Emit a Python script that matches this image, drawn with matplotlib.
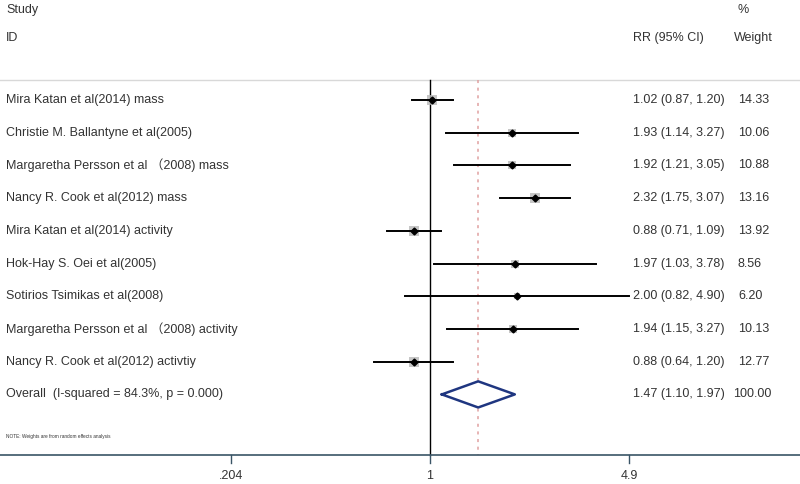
import matplotlib.pyplot as plt
import matplotlib.transforms as mtransforms
import numpy as np

# Study data
studies = [
    'Mira Katan et al(2014) mass',
    'Christie M. Ballantyne et al(2005)',
    'Margaretha Persson et al （2008) mass',
    'Nancy R. Cook et al(2012) mass',
    'Mira Katan et al(2014) activity',
    'Hok-Hay S. Oei et al(2005)',
    'Sotirios Tsimikas et al(2008)',
    'Margaretha Persson et al （2008) activity',
    'Nancy R. Cook et al(2012) activtiy',
]
rr = [1.02, 1.93, 1.92, 2.32, 0.88, 1.97, 2.00, 1.94, 0.88]
lower = [0.87, 1.14, 1.21, 1.75, 0.71, 1.03, 0.82, 1.15, 0.64]
upper = [1.20, 3.27, 3.05, 3.07, 1.09, 3.78, 4.90, 3.27, 1.20]
weights = [14.33, 10.06, 10.88, 13.16, 13.92, 8.56, 6.20, 10.13, 12.77]

overall_label = 'Overall  (I-squared = 84.3%, p = 0.000)'
overall = [1.47, 1.10, 1.97]
overall_weight = 100.00

tick_values = [0.204, 1, 4.9]
tick_labels = ['.204', '1', '4.9']

plt.rcParams['font.family'] = ['Liberation Sans', 'Noto Sans CJK SC', 'DejaVu Sans']
txt_color = '#333333'
fs = 9

fig = plt.figure(figsize=(8, 4.84), dpi=100)
ax = fig.add_axes([0, 0, 1, 1])
ax.set_xscale('log')
ax.set_xlim(0.0323, 19.2)
ax.set_ylim(11.74, -3.06)
ax.axis('off')

# x in axes fraction, y in row units
tr = mtransforms.blended_transform_factory(ax.transAxes, ax.transData)

# header
ax.text(6 / 800, -2.75, 'Study', transform=tr, fontsize=fs, color=txt_color, va='center')
ax.text(6 / 800, -1.9, 'ID', transform=tr, fontsize=fs, color=txt_color, va='center')
ax.text(633 / 800, -1.9, 'RR (95% CI)', transform=tr, fontsize=fs, color=txt_color, va='center')
ax.text(737 / 800, -2.75, '%', transform=tr, fontsize=fs, color=txt_color, va='center')
ax.text(734 / 800, -1.9, 'Weight', transform=tr, fontsize=fs, color=txt_color, va='center')

# separator line under header
ax.axhline(-0.61, color='#d8d8d8', lw=1)

y_overall = len(studies)
y_axis = 10.86

# reference lines
ax.plot([1, 1], [-0.61, y_axis], color='black', lw=1)
ax.plot([overall[0], overall[0]], [-0.61, y_axis], color='#e0a0a0', lw=1.1,
        linestyle=(0, (2, 3)))

# study rows
for i, name in enumerate(studies):
    ax.plot([lower[i], upper[i]], [i, i], color='black', lw=1.4, zorder=3)
    ax.plot(rr[i], i, marker='s', color='#b8b8b8', alpha=0.8,
            markersize=np.sqrt(weights[i]) * 1.9, markeredgewidth=0, zorder=2)
    ax.plot(rr[i], i, marker='D', color='black', markersize=3.5, zorder=4)
    ax.text(6 / 800, i, name, transform=tr, fontsize=fs, color=txt_color, va='center')
    ax.text(633 / 800, i, '%.2f (%.2f, %.2f)' % (rr[i], lower[i], upper[i]),
            transform=tr, fontsize=fs, color=txt_color, va='center')
    ax.text(738 / 800, i, '%.2f' % weights[i], transform=tr, fontsize=fs,
            color=txt_color, va='center')

# overall diamond
dx = [overall[1], overall[0], overall[2], overall[0], overall[1]]
dy = [y_overall, y_overall - 0.4, y_overall, y_overall + 0.4, y_overall]
ax.plot(dx, dy, color='#1f3680', lw=1.8, zorder=4)
ax.fill(dx, dy, color='white', zorder=3)
ax.text(6 / 800, y_overall, overall_label, transform=tr, fontsize=fs,
        color=txt_color, va='center')
ax.text(633 / 800, y_overall, '%.2f (%.2f, %.2f)' % tuple(overall),
        transform=tr, fontsize=fs, color=txt_color, va='center')
ax.text(733 / 800, y_overall, '%.2f' % overall_weight, transform=tr,
        fontsize=fs, color=txt_color, va='center')

# note
ax.text(6 / 800, 10.3, 'NOTE: Weights are from random effects analysis',
        transform=tr, fontsize=3.4, color=txt_color, va='center')

# x axis
ax.axhline(y_axis, color='#3a5566', lw=1.2)
for v, lab in zip(tick_values, tick_labels):
    ax.plot([v, v], [y_axis, y_axis + 0.25], color='#3a5566', lw=1)
    ax.text(v, 11.5, lab, fontsize=fs, color=txt_color, ha='center', va='center')

plt.savefig('out.png', dpi=100)
